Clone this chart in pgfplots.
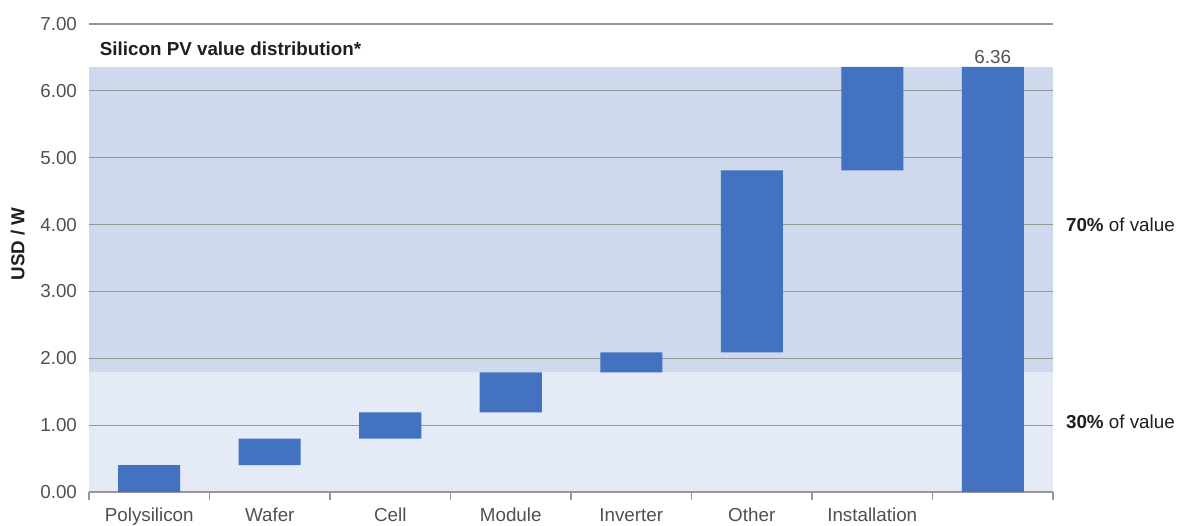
\documentclass[border=0pt]{standalone}
\usepackage{pgfplots}
\usepackage{pgfplotstable}
\pgfplotsset{compat=1.18}
\usepackage{fontspec}
\setmainfont{Liberation Sans}

\definecolor{barblue}{RGB}{66,114,192}
\definecolor{shadeup}{RGB}{206,217,237}
\definecolor{shadelow}{RGB}{228,234,246}
\definecolor{gridgray}{RGB}{150,150,150}
\definecolor{ticktext}{RGB}{80,80,80}
\definecolor{darktext}{RGB}{30,30,35}

% waterfall: invisible base + visible segment (USD/W)
\pgfplotstableread{
pos base height
0 0.00 0.40
1 0.40 0.40
2 0.80 0.39
3 1.19 0.60
4 1.79 0.30
5 2.09 2.72
6 4.81 1.55
7 0.00 6.36
}\valuetable

\pgfplotsset{
  frame/.style={scale only axis, width=482pt, height=234pt,
    xmin=-0.5, xmax=7.5, ymin=0, ymax=7},
}

\begin{document}
\begin{tikzpicture}[font=\fontsize{9.4}{11}\selectfont]
% background: value bands with the grid on top of them
\begin{axis}[
  frame, axis on top,
  axis line style={draw=none},
  xtick=\empty, ytick={1,...,7}, yticklabels={},
  ytick style={draw=none},
  ymajorgrids, grid style={gridgray, line width=0.6pt},
]
\addplot[fill=shadelow, draw=none] coordinates {(-0.5,0) (7.5,0) (7.5,1.8) (-0.5,1.8)} -- cycle;
\addplot[fill=shadeup, draw=none] coordinates {(-0.5,1.8) (7.5,1.8) (7.5,6.36) (-0.5,6.36)} -- cycle;
\end{axis}
% foreground: waterfall bars, ticks and labels
\begin{axis}[
  frame, name=ax, clip=false,
  ybar stacked, bar width=31pt,
  axis lines*=left,
  y axis line style={draw=none},
  x axis line style={gridgray, line width=0.6pt},
  xtick={0,...,7},
  xticklabels={Polysilicon,Wafer,Cell,Module,Inverter,Other,Installation,{}},
  minor xtick={-0.5,0.5,...,7.5},
  major tick length=0pt, minor tick length=4pt, tick align=outside,
  minor tick style={gridgray, line width=0.6pt},
  ytick={0,...,7},
  ytick style={draw=none},
  /pgf/number format/assume math mode=true,
  yticklabel={\pgfmathprintnumber[fixed, fixed zerofill, precision=2]{\tick}},
  ticklabel style={text=ticktext},
  yticklabel style={xshift=-2.5pt},
  xticklabel style={text height=1.6ex, text depth=0.3ex, yshift=-3pt},
]
\addplot[draw=none, fill=none, forget plot] table[x=pos, y=base] {\valuetable};
\addplot[fill=barblue, draw=none] table[x=pos, y=height] {\valuetable};

\node[anchor=south, inner sep=1.5pt, text=ticktext] at (axis cs:7,6.36) {6.36};
\node[anchor=west, font=\fontsize{9.4}{11}\selectfont\bfseries, text=darktext]
  at (axis description cs:0.004,0.947) {Silicon PV value distribution*};
\node[rotate=90, font=\fontsize{9.4}{11}\selectfont\bfseries, text=darktext]
  at (axis description cs:-0.074,0.53) {USD / W};
\node[anchor=west, text=darktext] at (axis cs:7.5,4.0) [xshift=3pt] {\textbf{70\%} of value};
\node[anchor=west, text=darktext] at (axis cs:7.5,1.05) [xshift=3pt] {\textbf{30\%} of value};
\end{axis}
\pgfresetboundingbox
\path[use as bounding box] ([xshift=-44.5pt,yshift=-17pt]ax.south west)
  rectangle ([xshift=62pt,yshift=12pt]ax.north east);
\end{tikzpicture}
\end{document}
